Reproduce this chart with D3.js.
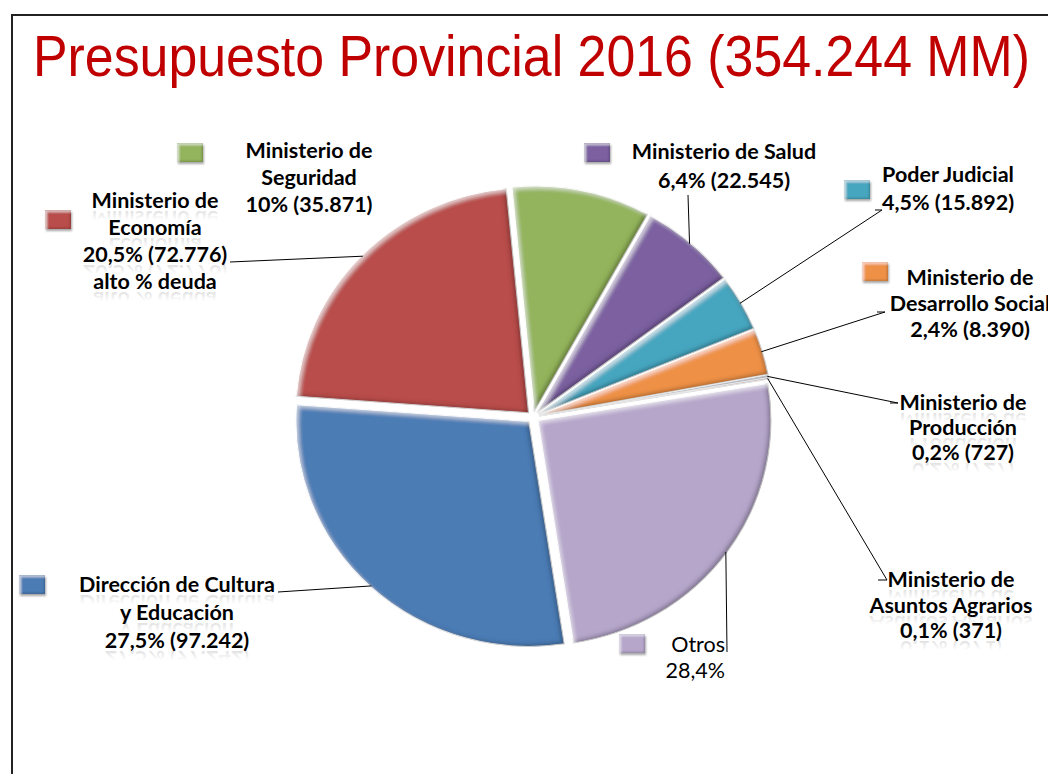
<!DOCTYPE html>
<html>
<head>
<meta charset="utf-8">
<script src="https://cdn.jsdelivr.net/npm/d3@7"></script>
<style>
    body { margin: 0; background: #fff; }
    svg { display: block; }
</style>
</head>
<body>
<svg id="chart" width="1048" height="774"></svg>
<script>
// categories in the order the pie is drawn (clockwise from 12 o'clock)
var categories = [
    'Ministerio de Seguridad', 'Ministerio de Salud', 'Poder Judicial',
    'Ministerio de Desarrollo Social', 'Ministerio de Producción',
    'Ministerio de Asuntos Agrarios', 'Otros',
    'Dirección de Cultura y Educación', 'Ministerio de Economía'
];
// slice shares as drawn in the picture (%)
var shares = [9.6, 6.7, 4.0, 3.3, 0.2, 0.1, 25.2, 28.6, 22.3];
var colors = ['#93B35B', '#7B60A0', '#46A6BF', '#EE9147', '#2C4D75', '#772C2A', '#B5A6CA', '#4C7BB4', '#B84E4B'];
// label text, one entry per line
var labelLines = [
    ['Ministerio de', 'Seguridad', '10% (35.871)'],
    ['Ministerio de Salud', '6,4% (22.545)'],
    ['Poder Judicial', '4,5% (15.892)'],
    ['Ministerio de', 'Desarrollo Social', '2,4% (8.390)'],
    ['Ministerio de', 'Producción', '0,2% (727)'],
    ['Ministerio de', 'Asuntos Agrarios', '0,1% (371)'],
    ['Otros', '28,4%'],
    ['Dirección de Cultura', 'y Educación', '27,5%  (97.242)'],
    ['Ministerio de', 'Economía', '20,5% (72.776)', 'alto % deuda']
];
var title = 'Presupuesto Provincial 2016 (354.244 MM)';

// layout of each label: centre x, first baseline, line step, leader bend points, legend square
var layout = [
    { x: 309, y: 158, dy: 27, leader: null, box: [177, 143] },
    { x: 724, y: 159, dy: 29, leader: [[688, 195]], box: [584, 143] },
    { x: 948, y: 182, dy: 28, leader: [[882, 210], [875, 210]], box: [844, 180] },
    { x: 970, y: 285, dy: 26, leader: [[885, 312], [877, 312]], box: [862, 262] },
    { x: 963, y: 410, dy: 25, leader: [[898, 403], [890, 403]], box: null, reflect: true },
    { x: 951, y: 587, dy: 25.5, leader: [[887, 580], [878, 580]], box: null, reflect: true },
    { x: 725, y: 652, dy: 26, leader: [[727, 652]], box: [619, 634], anchor: 'end', regular: true },
    { x: 177, y: 592, dy: 28, leader: [[278, 592]], box: [19, 575], reflect: true },
    { x: 155, y: 208, dy: 27, leader: [[230, 262]], box: [45, 210], reflect: true }
];

var cx = 533, cy = 417, radius = 225, sx = 1.035, explode = 6;
var startAngle = -5.5 * Math.PI / 180;

var svg = d3.select('#chart');
var defs = svg.append('defs');

function bevel(id, blur, off, dark, light) {
    var f = defs.append('filter').attr('id', id)
        .attr('x', '-10%').attr('y', '-10%').attr('width', '120%').attr('height', '120%');
    f.append('feComponentTransfer').attr('in', 'SourceAlpha').attr('result', 'inv')
        .append('feFuncA').attr('type', 'table').attr('tableValues', '1 0');
    f.append('feGaussianBlur').attr('in', 'inv').attr('stdDeviation', blur).attr('result', 'invBlur');
    f.append('feOffset').attr('in', 'invBlur').attr('dx', -off).attr('dy', -off).attr('result', 'shOff');
    f.append('feFlood').attr('flood-color', '#000').attr('flood-opacity', dark);
    f.append('feComposite').attr('in2', 'shOff').attr('operator', 'in').attr('result', 'sh');
    f.append('feComposite').attr('in', 'sh').attr('in2', 'SourceAlpha').attr('operator', 'in').attr('result', 'innerSh');
    f.append('feOffset').attr('in', 'invBlur').attr('dx', off).attr('dy', off).attr('result', 'hlOff');
    f.append('feFlood').attr('flood-color', '#fff').attr('flood-opacity', light);
    f.append('feComposite').attr('in2', 'hlOff').attr('operator', 'in').attr('result', 'hl');
    f.append('feComposite').attr('in', 'hl').attr('in2', 'SourceAlpha').attr('operator', 'in').attr('result', 'innerHl');
    var m = f.append('feMerge');
    m.append('feMergeNode').attr('in', 'SourceGraphic');
    m.append('feMergeNode').attr('in', 'innerSh');
    m.append('feMergeNode').attr('in', 'innerHl');
}
bevel('bevel', 2, 2.5, 0.55, 0.6);
bevel('bevelSmall', 1.2, 1.5, 0.45, 0.6);

defs.append('filter').attr('id', 'drop')
    .attr('x', '-20%').attr('y', '-20%').attr('width', '150%').attr('height', '160%')
    .append('feDropShadow').attr('dx', 1).attr('dy', 2).attr('stdDeviation', 1.2)
    .attr('flood-color', '#000').attr('flood-opacity', 0.35);

// fading gradient for the text reflections
var fade = defs.append('linearGradient').attr('id', 'fade')
    .attr('x1', 0).attr('y1', 0).attr('x2', 0).attr('y2', 1);
fade.append('stop').attr('offset', '0.45').attr('stop-color', '#999').attr('stop-opacity', 0);
fade.append('stop').attr('offset', '1').attr('stop-color', '#999').attr('stop-opacity', 0.45);

// frame
svg.append('path')
    .attr('d', 'M12,774V15H1048')
    .attr('fill', 'none')
    .attr('stroke', '#222')
    .attr('stroke-width', 2);

// title: a bit taller than wide, like the slide's stretched text
svg.append('text')
    .attr('transform', translate(33, 76) + ' scale(1,1.115)')
    .attr('font-family', '"Liberation Sans", Arial, sans-serif')
    .attr('font-size', 52)
    .attr('textLength', 997)
    .attr('lengthAdjust', 'spacingAndGlyphs')
    .attr('fill', '#C00000')
    .text(title);

var pie = d3.pie().sort(null)
    .startAngle(startAngle)
    .endAngle(startAngle + 2 * Math.PI);
var arcs = pie(shares);
var arc = d3.arc().innerRadius(0).outerRadius(radius);

function offset(d, r) {
    var a = (d.startAngle + d.endAngle) / 2;
    return [Math.sin(a) * r, -Math.cos(a) * r];
}

function translate(x, y) {
    return 'translate(' + x + ',' + y + ')';
}

var pieG = svg.append('g')
    .attr('transform', translate(cx, cy) + ' scale(' + sx + ',1)');

pieG.selectAll('path')
    .data(arcs)
    .enter()
    .append('path')
    .attr('transform', d => translate(offset(d, explode)[0], offset(d, explode)[1]))
    .attr('d', arc)
    .attr('fill', (d, i) => colors[i])
    .attr('stroke', '#fff')
    .attr('stroke-width', 1)
    .attr('filter', 'url(#bevel)');

// leader lines from the slice rim to the label
var lineGen = d3.line();
svg.append('g').selectAll('path')
    .data(arcs.filter((d, i) => layout[i].leader))
    .enter()
    .append('path')
    .attr('d', d => {
        var p = offset(d, radius + explode - 1);
        var start = [cx + p[0] * sx, cy + p[1]];
        return lineGen([start].concat(layout[d.index].leader));
    })
    .attr('fill', 'none')
    .attr('stroke', '#000')
    .attr('stroke-width', 1);

// legend squares next to labels
svg.append('g').selectAll('g')
    .data(arcs.filter((d, i) => layout[i].box))
    .enter()
    .append('g')
    .attr('filter', 'url(#drop)')
    .append('rect')
    .attr('x', d => layout[d.index].box[0])
    .attr('y', d => layout[d.index].box[1])
    .attr('width', 26)
    .attr('height', 19)
    .attr('fill', d => colors[d.index])
    .attr('filter', 'url(#bevelSmall)');

// labels
var labels = svg.append('g')
    .attr('font-family', 'Lato, "Open Sans", sans-serif')
    .attr('font-size', 21.5);

labelLines.forEach((lines, i) => {
    var l = layout[i];
    var g = labels.append('g');
    lines.forEach((s, j) => {
        var y = l.y + j * l.dy;
        if (l.reflect) {
            g.append('text')
                .attr('transform', 'translate(0,' + (2 * y + 3) + ') scale(1,-1)')
                .attr('x', l.x)
                .attr('y', y)
                .attr('text-anchor', l.anchor || 'middle')
                .attr('font-weight', l.regular ? 400 : 700)
                .attr('fill', 'url(#fade)')
                .text(s);
        }
        g.append('text')
            .attr('x', l.x)
            .attr('y', y)
            .attr('text-anchor', l.anchor || 'middle')
            .attr('font-weight', l.regular ? 400 : 700)
            .attr('fill', '#000')
            .text(s);
    });
});
</script>
</body>
</html>
